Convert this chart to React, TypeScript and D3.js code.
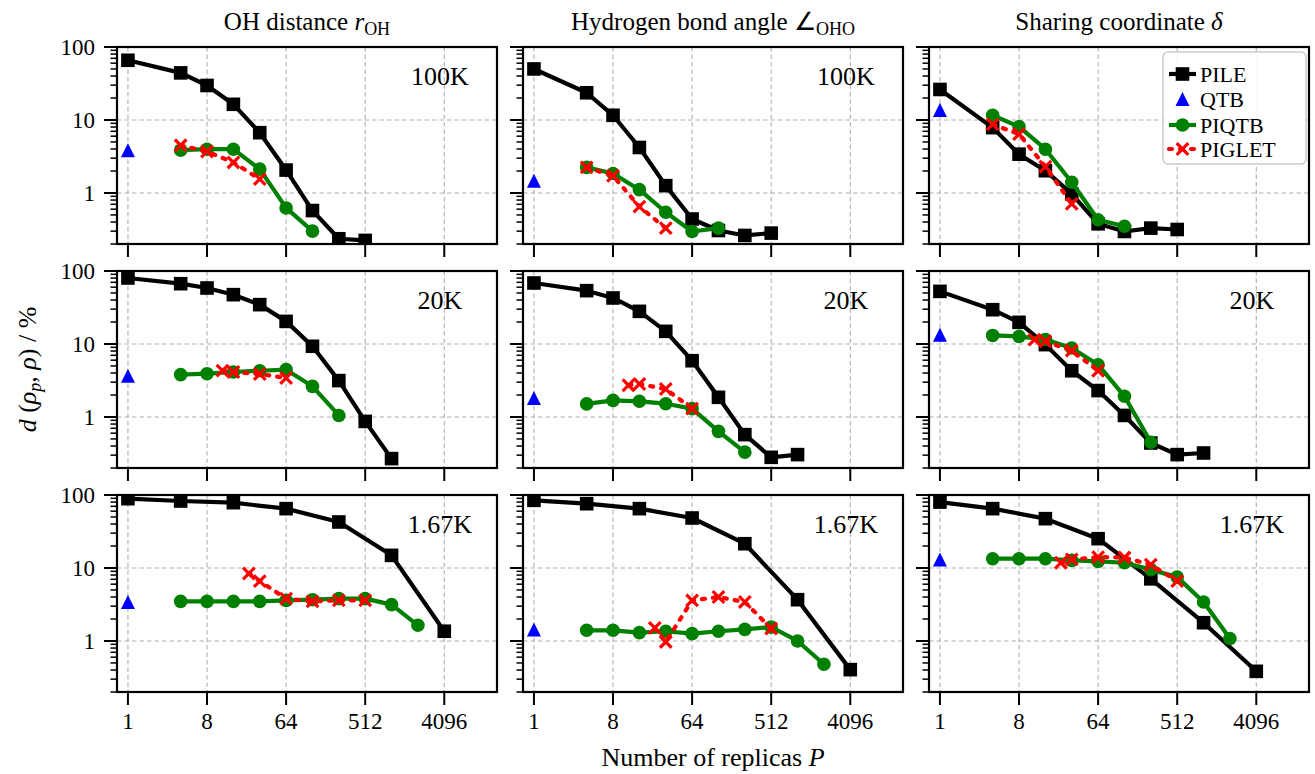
import React from 'react';
import * as d3 from 'd3';

// ---------- data ----------
const COLUMN_TITLES = ['OH distance', 'Hydrogen bond angle', 'Sharing coordinate'];
const ROW_LABELS = ['100K', '20K', '1.67K'];
const SERIES_NAMES = ['PILE', 'QTB', 'PIQTB', 'PIGLET'];
const X_TICK_VALUES = [1, 8, 64, 512, 4096];
const X_TICK_LABELS = ['1', '8', '64', '512', '4096'];
const Y_TICK_VALUES = [1, 10, 100];
const Y_TICK_LABELS = ['1', '10', '100'];

const P_QTB = [1];
const P_PILE_100K = [1, 4, 8, 16, 32, 64, 128, 256, 512];
const P_PILE_20K = [1, 4, 8, 16, 32, 64, 128, 256, 512, 1024];
const P_PILE_167K = [1, 4, 16, 64, 256, 1024, 4096];
const P_PIQTB_100K = [4, 8, 16, 32, 64, 128];
const P_PIQTB_20K = [4, 8, 16, 32, 64, 128, 256];
const P_PIQTB_167K = [4, 8, 16, 32, 64, 128, 256, 512, 1024, 2048];
const P_PIGLET_100K = [4, 8, 16, 32];
const P_PIGLET_20K = [12, 16, 32, 64];
const P_PIGLET_167K = [24, 32, 64, 128, 256, 512];

// 100K
const PILE_100K_OH = [65.8, 44.2, 29.7, 16.4, 6.7, 2.06, 0.574, 0.236, 0.224];
const PILE_100K_ANG = [50, 23.6, 11.6, 4.2, 1.26, 0.44, 0.306, 0.262, 0.282];
const PILE_100K_DEL = [26.2, 7.86, 3.4, 2.02, 0.97, 0.378, 0.297, 0.33, 0.316];
const QTB_100K = [3.86, 1.47, 13.7];
const PIQTB_100K_OH = [3.86, 3.98, 3.98, 2.12, 0.624, 0.3];
const PIQTB_100K_ANG = [2.24, 1.85, 1.11, 0.545, 0.297, 0.33];
const PIQTB_100K_DEL = [11.6, 8.1, 3.98, 1.4, 0.43, 0.35];
const PIGLET_100K_OH = [4.5, 3.7, 2.62, 1.55];
const PIGLET_100K_ANG = [2.24, 1.72, 0.65, 0.33];
const PIGLET_100K_DEL = [8.7, 6.4, 2.29, 0.71];

// 20K
const PILE_20K_OH = [80.2, 67, 58.5, 47.4, 34.6, 20.4, 9.3, 3.15, 0.87, 0.269];
const PILE_20K_ANG = [68.5, 53.8, 42.7, 28, 14.9, 5.9, 1.86, 0.573, 0.28, 0.305];
const PILE_20K_DEL = [52.6, 29.5, 19.8, 9.8, 4.3, 2.3, 1.05, 0.44, 0.305, 0.321];
const QTB_20K = [3.68, 1.82, 13.4];
const PIQTB_20K_OH = [3.8, 3.92, 4.13, 4.3, 4.45, 2.63, 1.05];
const PIQTB_20K_ANG = [1.51, 1.69, 1.64, 1.52, 1.3, 0.636, 0.33];
const PIQTB_20K_DEL = [13.1, 12.7, 11.5, 8.8, 5.2, 1.92, 0.45];
const PIGLET_20K_OH = [4.31, 4.13, 3.88, 3.42];
const PIGLET_20K_ANG = [2.72, 2.83, 2.42, 1.3];
const PIGLET_20K_DEL = [11.5, 10.9, 8.1, 4.3];

// 1.67K
const PILE_167K_OH = [89, 82.7, 78.5, 65, 42.7, 14.9, 1.36];
const PILE_167K_ANG = [84.5, 76, 65, 48.4, 21.5, 3.68, 0.405];
const PILE_167K_DEL = [80, 65, 47.4, 25.2, 7.1, 1.78, 0.384];
const QTB_167K = [3.42, 1.44, 13.1];
const PIQTB_167K_OH = [3.49, 3.49, 3.49, 3.49, 3.6, 3.68, 3.8, 3.8, 3.15, 1.64];
const PIQTB_167K_ANG = [1.4, 1.4, 1.3, 1.36, 1.26, 1.36, 1.44, 1.55, 1.0, 0.48];
const PIQTB_167K_DEL = [13.4, 13.4, 13.4, 12.7, 12.3, 11.8, 9.5, 7.5, 3.42, 1.08];
const PIGLET_167K_OH = [8.4, 6.6, 3.8, 3.49, 3.6, 3.6];
const PIGLET_167K_ANG = [1.51, 0.97, 3.6, 4.0, 3.42, 1.48];
const PIGLET_167K_DEL = [11.8, 13.1, 14.1, 13.9, 11.1, 6.6];

type Pt = [number, number];
const zip = (p: number[], v: number[]): Pt[] => p.map((pp, i) => [pp, v[i]] as Pt);

const PANELS = [
  [
    { pile: zip(P_PILE_100K, PILE_100K_OH), qtb: zip(P_QTB, [QTB_100K[0]]), piqtb: zip(P_PIQTB_100K, PIQTB_100K_OH), piglet: zip(P_PIGLET_100K, PIGLET_100K_OH) },
    { pile: zip(P_PILE_100K, PILE_100K_ANG), qtb: zip(P_QTB, [QTB_100K[1]]), piqtb: zip(P_PIQTB_100K, PIQTB_100K_ANG), piglet: zip(P_PIGLET_100K, PIGLET_100K_ANG) },
    { pile: zip(P_PILE_100K, PILE_100K_DEL), qtb: zip(P_QTB, [QTB_100K[2]]), piqtb: zip(P_PIQTB_100K, PIQTB_100K_DEL), piglet: zip(P_PIGLET_100K, PIGLET_100K_DEL) },
  ],
  [
    { pile: zip(P_PILE_20K, PILE_20K_OH), qtb: zip(P_QTB, [QTB_20K[0]]), piqtb: zip(P_PIQTB_20K, PIQTB_20K_OH), piglet: zip(P_PIGLET_20K, PIGLET_20K_OH) },
    { pile: zip(P_PILE_20K, PILE_20K_ANG), qtb: zip(P_QTB, [QTB_20K[1]]), piqtb: zip(P_PIQTB_20K, PIQTB_20K_ANG), piglet: zip(P_PIGLET_20K, PIGLET_20K_ANG) },
    { pile: zip(P_PILE_20K, PILE_20K_DEL), qtb: zip(P_QTB, [QTB_20K[2]]), piqtb: zip(P_PIQTB_20K, PIQTB_20K_DEL), piglet: zip(P_PIGLET_20K, PIGLET_20K_DEL) },
  ],
  [
    { pile: zip(P_PILE_167K, PILE_167K_OH), qtb: zip(P_QTB, [QTB_167K[0]]), piqtb: zip(P_PIQTB_167K, PIQTB_167K_OH), piglet: zip(P_PIGLET_167K, PIGLET_167K_OH) },
    { pile: zip(P_PILE_167K, PILE_167K_ANG), qtb: zip(P_QTB, [QTB_167K[1]]), piqtb: zip(P_PIQTB_167K, PIQTB_167K_ANG), piglet: zip(P_PIGLET_167K, PIGLET_167K_ANG) },
    { pile: zip(P_PILE_167K, PILE_167K_DEL), qtb: zip(P_QTB, [QTB_167K[2]]), piqtb: zip(P_PIQTB_167K, PIQTB_167K_DEL), piglet: zip(P_PIGLET_167K, PIGLET_167K_DEL) },
  ],
];

// ---------- styling ----------
const FONT = '"Liberation Serif", "Times New Roman", serif';
const W = 380;
const H = 197;
const COL_LEFT = [117, 523, 929];
const ROW_TOP = [47, 271, 495];
const GREEN = '#008000';
const RED = '#ff0000';
const BLUE = '#0000ff';

const x = d3.scaleLog().base(2).domain([0.75, 16384]).range([0, W]);
const y = d3.scaleLog().domain([0.2, 100]).range([H, 0]);
const line = d3.line<Pt>().x((d) => x(d[0])).y((d) => y(d[1]));
const MINOR_Y = y.ticks().filter((t) => !Y_TICK_VALUES.some((m) => Math.abs(m - t) < 1e-9));

const Square = ({ cx, cy }: { cx: number; cy: number }) => (
  <rect x={cx - 6.8} y={cy - 6.8} width={13.6} height={13.6} fill="#000" />
);
const Circle = ({ cx, cy }: { cx: number; cy: number }) => <circle cx={cx} cy={cy} r={6.8} fill={GREEN} />;
const Tri = ({ cx, cy }: { cx: number; cy: number }) => (
  <path d={`M${cx},${cy - 7} L${cx + 7},${cy + 7} L${cx - 7},${cy + 7} Z`} fill={BLUE} />
);
const Cross = ({ cx, cy }: { cx: number; cy: number }) => (
  <path
    d={`M${cx - 5.8},${cy - 5.8} L${cx + 5.8},${cy + 5.8} M${cx - 5.8},${cy + 5.8} L${cx + 5.8},${cy - 5.8}`}
    stroke={RED}
    strokeWidth={3.2}
    fill="none"
  />
);

function Panel({ r, c }: { r: number; c: number }) {
  const d = PANELS[r][c];
  const id = `clip-${r}-${c}`;
  const showLabel = !(r === 0 && c === 2); // legend occupies that corner
  return (
    <g transform={`translate(${COL_LEFT[c]},${ROW_TOP[r]})`}>
      <defs>
        <clipPath id={id}>
          <rect x={0} y={0} width={W} height={H} />
        </clipPath>
      </defs>
      {X_TICK_VALUES.map((t) => (
        <line key={'gx' + t} x1={x(t)} x2={x(t)} y1={0} y2={H} stroke="#b0b0b0" strokeWidth={1.1} strokeDasharray="4.5 3" />
      ))}
      {Y_TICK_VALUES.map((t) => (
        <line key={'gy' + t} x1={0} x2={W} y1={y(t)} y2={y(t)} stroke="#b0b0b0" strokeWidth={1.1} strokeDasharray="4.5 3" />
      ))}
      <g clipPath={`url(#${id})`}>
        <path d={line(d.pile) || ''} fill="none" stroke="#000" strokeWidth={4.2} strokeLinejoin="round" />
        {d.pile.map((p, i) => (
          <Square key={'s' + i} cx={x(p[0])} cy={y(p[1])} />
        ))}
        {d.qtb.map((p, i) => (
          <Tri key={'t' + i} cx={x(p[0])} cy={y(p[1])} />
        ))}
        <path d={line(d.piqtb) || ''} fill="none" stroke={GREEN} strokeWidth={4.2} strokeLinejoin="round" />
        {d.piqtb.map((p, i) => (
          <Circle key={'c' + i} cx={x(p[0])} cy={y(p[1])} />
        ))}
        <path d={line(d.piglet) || ''} fill="none" stroke={RED} strokeWidth={4.2} strokeDasharray="3 8" strokeLinecap="round" />
        {d.piglet.map((p, i) => (
          <Cross key={'x' + i} cx={x(p[0])} cy={y(p[1])} />
        ))}
      </g>
      <rect x={0} y={0} width={W} height={H} fill="none" stroke="#000" strokeWidth={2.2} />
      {Y_TICK_VALUES.map((t) => (
        <line key={'yt' + t} x1={-13} x2={0} y1={y(t)} y2={y(t)} stroke="#000" strokeWidth={2} />
      ))}
      {MINOR_Y.map((t) => (
        <line key={'ym' + t} x1={-6.5} x2={0} y1={y(t)} y2={y(t)} stroke="#000" strokeWidth={1.5} />
      ))}
      {X_TICK_VALUES.map((t) => (
        <line key={'xt' + t} x1={x(t)} x2={x(t)} y1={H} y2={H + 13} stroke="#000" strokeWidth={2} />
      ))}
      {c === 0 &&
        Y_TICK_VALUES.map((t, i) => (
          <text key={'yl' + t} x={-22} y={y(t) + 8} textAnchor="end" fontSize={23} fontFamily={FONT}>
            {Y_TICK_LABELS[i]}
          </text>
        ))}
      {r === 2 &&
        X_TICK_VALUES.map((t, i) => (
          <text key={'xl' + t} x={x(t)} y={H + 37} textAnchor="middle" fontSize={23} fontFamily={FONT}>
            {X_TICK_LABELS[i]}
          </text>
        ))}
      {showLabel && (
        <text x={W * 0.85} y={37.5} textAnchor="middle" fontSize={26} fontFamily={FONT}>
          {ROW_LABELS[r]}
        </text>
      )}
    </g>
  );
}

function Legend() {
  const left = COL_LEFT[2] + W - 146;
  const top = ROW_TOP[0] + 5;
  const rows = [22, 47, 73, 97];
  const hx0 = 6;
  const hx1 = 33;
  const hm = (hx0 + hx1) / 2;
  return (
    <g transform={`translate(${left},${top})`}>
      <rect x={0} y={0} width={143} height={112} rx={5} fill="#fff" fillOpacity={0.85} stroke="#cccccc" strokeWidth={1.5} />
      <line x1={hx0} x2={hx1} y1={rows[0]} y2={rows[0]} stroke="#000" strokeWidth={4.2} />
      <Square cx={hm} cy={rows[0]} />
      <Tri cx={hm} cy={rows[1]} />
      <line x1={hx0} x2={hx1} y1={rows[2]} y2={rows[2]} stroke={GREEN} strokeWidth={4.2} />
      <Circle cx={hm} cy={rows[2]} />
      <line x1={hx0} x2={hx1} y1={rows[3]} y2={rows[3]} stroke={RED} strokeWidth={4.2} strokeDasharray="3 8" strokeLinecap="round" />
      <Cross cx={hm} cy={rows[3]} />
      {SERIES_NAMES.map((n, i) => (
        <text key={n} x={37} y={rows[i] + 7.5} fontSize={22} fontFamily={FONT}>
          {n}
        </text>
      ))}
    </g>
  );
}

export default function App() {
  const colCenters = COL_LEFT.map((l) => l + W / 2);
  return (
    <svg width={1315} height={774} style={{ position: 'absolute', left: 0, top: 0, background: '#fff' }}>
      <rect x={0} y={0} width={1315} height={774} fill="#fff" />
      {[0, 1, 2].map((r) => [0, 1, 2].map((c) => <Panel key={`${r}-${c}`} r={r} c={c} />))}
      <Legend />
      <text x={colCenters[0]} y={30} textAnchor="middle" fontSize={25} fontFamily={FONT}>
        {COLUMN_TITLES[0]}{' '}
        <tspan fontStyle="italic">r</tspan>
        <tspan fontSize={18} dy={5}>OH</tspan>
      </text>
      <text x={colCenters[1]} y={30} textAnchor="middle" fontSize={25} fontFamily={FONT}>
        {COLUMN_TITLES[1]} ∠<tspan fontSize={18} dy={5}>OHO</tspan>
      </text>
      <text x={colCenters[2]} y={30} textAnchor="middle" fontSize={25} fontFamily={FONT}>
        {COLUMN_TITLES[2]} <tspan fontStyle="italic">δ</tspan>
      </text>
      <text x={colCenters[1]} y={766} textAnchor="middle" fontSize={26} fontFamily={FONT}>
        Number of replicas <tspan fontStyle="italic">P</tspan>
      </text>
      <text transform={`translate(36,${(ROW_TOP[0] + ROW_TOP[2] + H) / 2}) rotate(-90)`} textAnchor="middle" fontSize={26} fontFamily={FONT}>
        <tspan fontStyle="italic">d</tspan> (<tspan fontStyle="italic">ρ</tspan>
        <tspan fontStyle="italic" fontSize={18} dy={5}>p</tspan>
        <tspan dy={-5}>, </tspan>
        <tspan fontStyle="italic">ρ</tspan>) / %
      </text>
    </svg>
  );
}
